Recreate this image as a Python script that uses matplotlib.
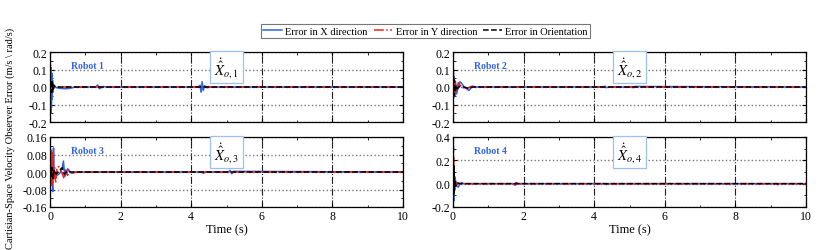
import matplotlib.pyplot as plt
from matplotlib.ticker import MultipleLocator, FormatStrFormatter

plt.rcParams['font.family'] = ['Liberation Serif', 'DejaVu Serif']
plt.rcParams['mathtext.fontset'] = 'stix'

# ---- data (time in s, error values) ----
# Robot 1
r1_tx = [0, 0.01, 0.02, 0.03, 0.04, 0.05, 0.06, 0.07, 0.08, 0.09, 0.1, 0.12, 0.15, 0.2, 0.3, 0.45, 0.6, 0.7,
         1.3, 1.35, 1.4, 1.45, 1.5, 1.6, 4.2, 4.25, 4.28, 4.31, 4.34, 4.38, 4.45, 4.55, 10]
r1_x = [0, 0.13, -0.15, 0.11, -0.12, 0.08, -0.07, 0.04, -0.03, 0.02, -0.01, 0.01, 0.0, -0.005, -0.008, -0.01, -0.006, 0,
        0, 0.012, -0.01, -0.004, 0.003, 0, 0, 0.01, -0.03, 0.03, -0.02, 0.008, -0.004, 0, 0]
r1_ty = [0, 0.02, 0.04, 0.06, 0.08, 0.1, 0.15, 0.25, 10]
r1_y = [0, 0.02, -0.02, 0.015, -0.01, 0.005, 0.0, 0.0, 0]
r1_tt = [0, 0.03, 0.05, 0.07, 0.09, 0.11, 0.15, 10]
r1_t = [0, 0.04, -0.03, 0.03, -0.02, 0.01, 0.0, 0]

# Robot 2
r2_tx = [0, 0.01, 0.02, 0.03, 0.05, 0.07, 0.1, 0.15, 0.2, 0.25, 0.3, 0.38, 0.45, 0.55, 0.65, 0.8,
         4.25, 4.3, 4.35, 4.4, 5.05, 5.1, 5.15, 10]
r2_x = [0, 0.08, -0.06, 0.06, -0.05, 0.03, -0.04, 0.0, 0.03, 0.02, 0.005, -0.01, -0.02, 0.005, 0.0, 0,
        0, 0.005, -0.004, 0, 0, -0.004, 0.003, 0]
r2_ty = [0, 0.02, 0.04, 0.06, 0.1, 0.15, 0.2, 0.3, 0.4, 0.5, 0.6, 10]
r2_y = [0, 0.05, -0.04, 0.03, -0.02, 0.025, 0.01, -0.005, -0.01, 0.003, 0, 0]
r2_tt = [0, 0.01, 0.02, 0.04, 0.06, 0.09, 0.12, 0.2, 0.3, 0.45, 0.55, 10]
r2_t = [0, 0.1, -0.05, 0.04, -0.03, 0.01, -0.01, 0.005, 0.0, -0.008, 0, 0]

# Robot 3
r3_tx = [0, 0.02, 0.04, 0.06, 0.08, 0.1, 0.12, 0.15, 0.2, 0.25, 0.3, 0.35, 0.38, 0.42, 0.46, 0.5, 0.55, 0.6, 0.7,
         0.75, 4.3, 4.35, 4.4, 5.05, 5.1, 5.15, 5.2, 10]
r3_x = [0, -0.03, 0.02, -0.05, -0.09, 0.11, -0.02, -0.01, -0.015, -0.01, 0.0, 0.02, 0.05, -0.02, -0.01, 0.015, 0.005, -0.005, 0.0,
        0, 0, -0.006, 0, 0, 0.008, -0.008, 0.003, 0]
r3_ty = [0, 0.02, 0.03, 0.04, 0.05, 0.06, 0.07, 0.09, 0.11, 0.13, 0.16, 0.2, 0.25, 0.3, 0.35, 0.4, 0.45, 0.5, 0.55,
         0.65, 0.75, 10]
r3_y = [0, 0.06, -0.04, 0.1, -0.06, 0.09, -0.05, 0.07, -0.03, 0.02, -0.05, 0.02, 0.025, 0.01, -0.01, -0.03, 0.01, -0.015,
        0.005, -0.005, 0, 0]
r3_tt = [0, 0.02, 0.04, 0.06, 0.09, 0.12, 0.18, 0.25, 0.35, 0.4, 0.5, 0.6, 10]
r3_t = [0, 0.03, -0.02, 0.02, -0.03, 0.01, -0.01, 0.005, 0.02, -0.01, 0.005, 0, 0]

# Robot 4
r4_tx = [0, 0.01, 0.02, 0.03, 0.05, 0.07, 0.1, 0.15, 0.2, 0.25, 0.3, 0.4, 1.7, 1.75, 1.8, 4.3, 4.35, 4.4,
         9.15, 9.2, 9.25, 10]
r4_x = [0, -0.05, -0.15, 0.03, 0.06, 0.03, -0.02, -0.03, 0.0, 0.01, 0.0, 0, 0, -0.01, 0, 0, -0.008, 0,
        0, -0.01, 0, 0]
r4_ty = [0, 0.01, 0.02, 0.03, 0.05, 0.07, 0.1, 0.15, 0.2, 1.7, 1.75, 1.78, 1.85, 10]
r4_y = [0, 0.1, 0.22, 0.05, -0.05, 0.02, -0.01, 0.005, 0, 0, -0.02, 0.01, 0, 0]
r4_tt = [0, 0.01, 0.02, 0.03, 0.04, 0.06, 0.08, 0.12, 0.2, 10]
r4_t = [0, 0.33, -0.1, 0.15, -0.06, 0.03, -0.02, 0.005, 0, 0]

robots = [
    (r1_tx, r1_x, r1_ty, r1_y, r1_tt, r1_t),
    (r2_tx, r2_x, r2_ty, r2_y, r2_tt, r2_t),
    (r3_tx, r3_x, r3_ty, r3_y, r3_tt, r3_t),
    (r4_tx, r4_x, r4_ty, r4_y, r4_tt, r4_t),
]
ylims = [(-0.2, 0.2), (-0.2, 0.2), (-0.16, 0.16), (-0.2, 0.4)]
ysteps = [0.1, 0.1, 0.08, 0.2]
yfmt = ['%.1f', '%.1f', '%.2f', '%.1f']

blue = '#2f62e8'
red = '#f02020'

fig = plt.figure(figsize=(8.31, 2.51), dpi=100)
W, H = 831, 251
boxes = [(50, 53), (453, 53), (50, 138), (453, 138)]

handles = None
for i, (tx, x, ty, y, tt, th) in enumerate(robots):
    left, top = boxes[i]
    ax = fig.add_axes([left / W, 1 - (top + 70) / H, 353 / W, 70 / H])
    hx, = ax.plot(tx, x, color=blue, lw=1.1, ls='-', label='Error in X direction')
    hy, = ax.plot(ty, y, color=red, lw=1.1, ls='-.', label='Error in Y direction')
    ht, = ax.plot(tt, th, color='black', lw=1.1, ls='--', label='Error in Orientation')
    handles = [hx, hy, ht]
    ax.set_xlim(0, 10)
    ax.set_ylim(*ylims[i])
    ax.xaxis.set_major_locator(MultipleLocator(2))
    ax.xaxis.set_minor_locator(MultipleLocator(1))
    ax.yaxis.set_major_locator(MultipleLocator(ysteps[i]))
    ax.yaxis.set_minor_locator(MultipleLocator(ysteps[i] / 2))
    ax.yaxis.set_major_formatter(FormatStrFormatter(yfmt[i]))
    ax.tick_params(which='both', direction='in', top=True, right=True, labelsize=8.5, pad=2)
    ax.tick_params(which='major', length=3)
    ax.tick_params(which='minor', length=1.8)
    ax.grid(axis='x', which='major', color='#222222', ls='-.', lw=0.8)
    ax.grid(axis='y', which='major', color='#777777', ls=':', lw=1.0)
    for s in ax.spines.values():
        s.set_linewidth(0.9)
    if i < 2:
        ax.set_xticklabels([])
    else:
        ax.set_xlabel('Time (s)', fontsize=9, labelpad=1)
    ax.text(0.106, 0.81, 'Robot %d' % (i + 1), transform=ax.transAxes, color=blue,
            fontsize=7, fontweight='bold', ha='center', va='center')
    ax.text(0.5, 0.78, r'$\dot{\hat{X}}_{o,%d}$' % (i + 1), transform=ax.transAxes,
            fontsize=10.5, ha='center', va='center',
            bbox=dict(boxstyle='square,pad=0.25', fc='white', ec='#9ec0f0', lw=0.9))

fig.text(0.012, 0.45, r'Cartisian-Space Velocity Observer Error (m/s \ rad/s)',
         rotation=90, ha='center', va='center', fontsize=7.5)

leg = fig.legend(handles=handles, loc='center', bbox_to_anchor=(0.512, 0.872), ncol=3,
                 fontsize=7.5, frameon=True, fancybox=False, edgecolor='#555555',
                 handlelength=1.8, columnspacing=0.6, borderpad=0.25, handletextpad=0.3)
leg.get_frame().set_linewidth(0.8)

fig.savefig('out.png', dpi=100)
